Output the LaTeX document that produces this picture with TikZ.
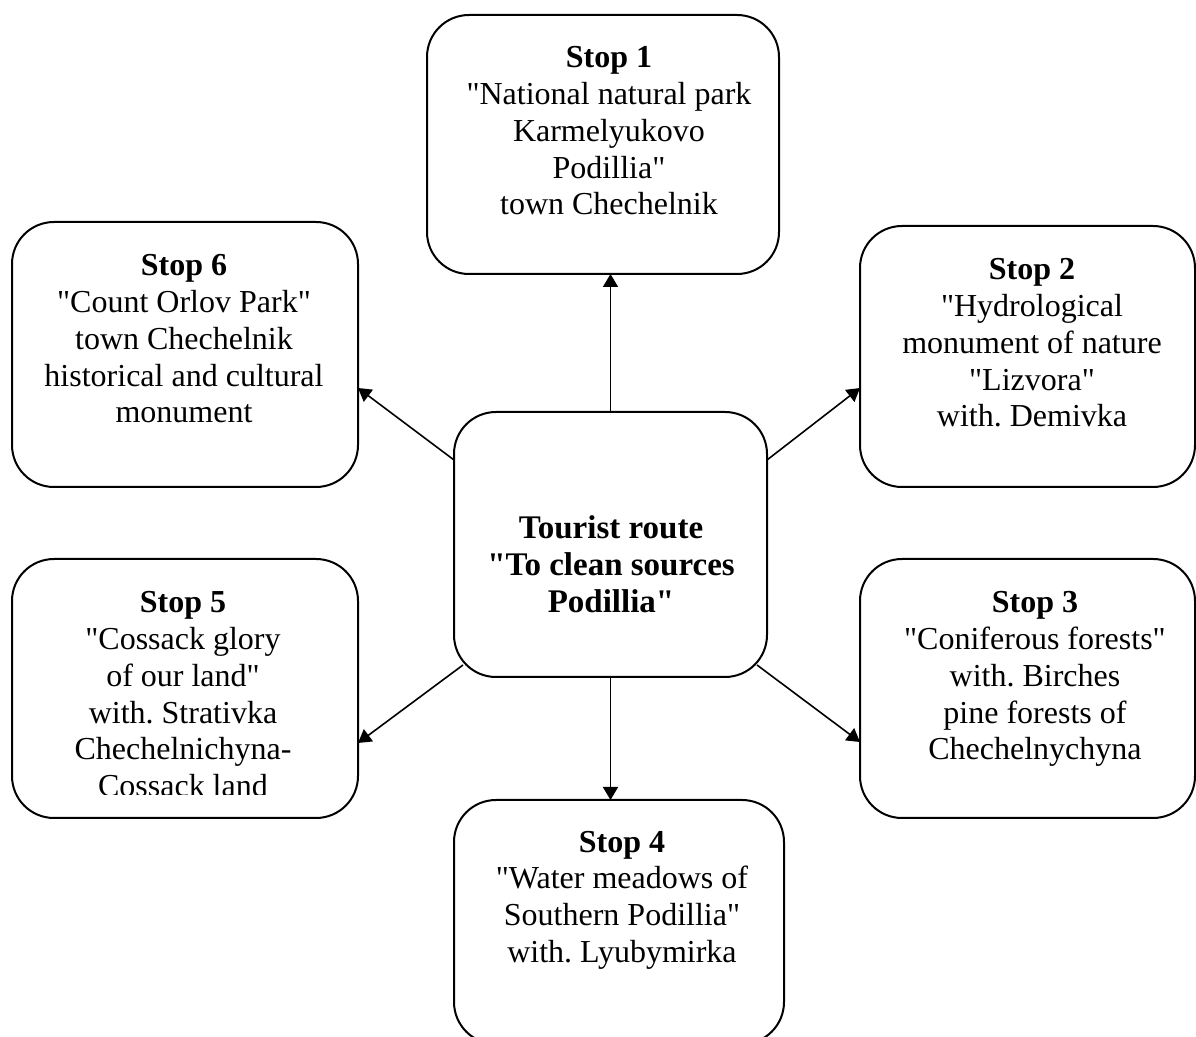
\documentclass[tikz,border=0pt]{standalone}
\usepackage{fontspec}
\setmainfont{Liberation Serif}[Ligatures=TeXOff]
\usetikzlibrary{arrows.meta}
\tikzset{
  stopbox/.style={draw=black, line width=1pt, rounded corners=21pt, rectangle,
    inner sep=0pt, outer sep=0pt},
  stoptext/.style={anchor=north, inner sep=0pt, outer sep=0pt, align=center,
    font=\fontsize{16}{18.35}\selectfont},
  link/.style={draw=black, line width=0.8pt, -{Triangle[width=7.5pt,length=6.5pt]}}
}
\newcommand{\firstln}{\rule{0pt}{12pt}}
\frenchspacing
\begin{document}
\frenchspacing
\begin{tikzpicture}[x=0.5pt,y=-0.5pt]
\clip (0,0) rectangle (1196,1037);
\fill[white] (0,0) rectangle (1196,1037);
% boxes
\node[stopbox, minimum width=176pt, minimum height=129.5pt] (s1) at (603,144.5) {};
\node[stopbox, minimum width=173pt, minimum height=132.5pt] (s6) at (185,354.5) {};
\node[stopbox, minimum width=167.5pt, minimum height=130.5pt] (s2) at (1027.5,356.5) {};
\node[stopbox, minimum width=173pt, minimum height=129.5pt] (s5) at (185,688.5) {};
\node[stopbox, minimum width=167.5pt, minimum height=129.5pt] (s3) at (1027.5,688.5) {};
\node[stopbox, minimum width=165pt, minimum height=122pt] (s4) at (619,922) {};
\node[stopbox, minimum width=156.5pt, minimum height=132.5pt] (c) at (610.5,544.5) {};
% texts
\node[stoptext] (t1) at (609,44) {\firstln\textbf{Stop 1}\\"National natural park\\Karmelyukovo\\Podillia"\\town Chechelnik};
\node[stoptext] (t6) at (184,252) {\firstln\textbf{Stop 6}\\"Count Orlov Park"\\town Chechelnik\\historical and cultural\\monument};
\node[stoptext] (t2) at (1032,256) {\firstln\textbf{Stop 2}\\"Hydrological\\monument of nature\\"Lizvora"\\with. Demivka};
\begin{scope}
\clip (0,0) rectangle (1196,795);
\node[stoptext] (t5) at (183,589) {\firstln\textbf{Stop 5}\\"Cossack glory\\of our land"\\with. Strativka\\Chechelnichyna-\\Cossack land};
\end{scope}
\node[stoptext] (t3) at (1035,589) {\firstln\textbf{Stop 3}\\"Coniferous forests"\\with. Birches\\pine forests of\\Chechelnychyna};
\node[stoptext] (t4) at (622,828) {\firstln\textbf{Stop 4}\\"Water meadows of\\Southern Podillia"\\with. Lyubymirka};
\node[stoptext, font=\bfseries\fontsize{16.5}{18.35}\selectfont] (tc) at (611,515) {\firstln Tourist route\\"To clean sources\\Podillia"};
% connectors
\draw[link] (c.north) -- (c.north |- s1.south);
\draw[link] ([yshift=42.25pt]c.west) -- ([yshift=-16.75pt]s6.east);
\draw[link] ([yshift=42.25pt]c.east) -- ([yshift=-15.75pt]s2.west);
\draw[link] ([xshift=4.5pt,yshift=6pt]c.south west) -- ([yshift=-27.25pt]s5.east);
\draw[link] ([xshift=-5pt,yshift=6pt]c.south east) -- ([yshift=-26.75pt]s3.west);
\draw[link] (c.south) -- (c.south |- s4.north);
\end{tikzpicture}
\end{document}
